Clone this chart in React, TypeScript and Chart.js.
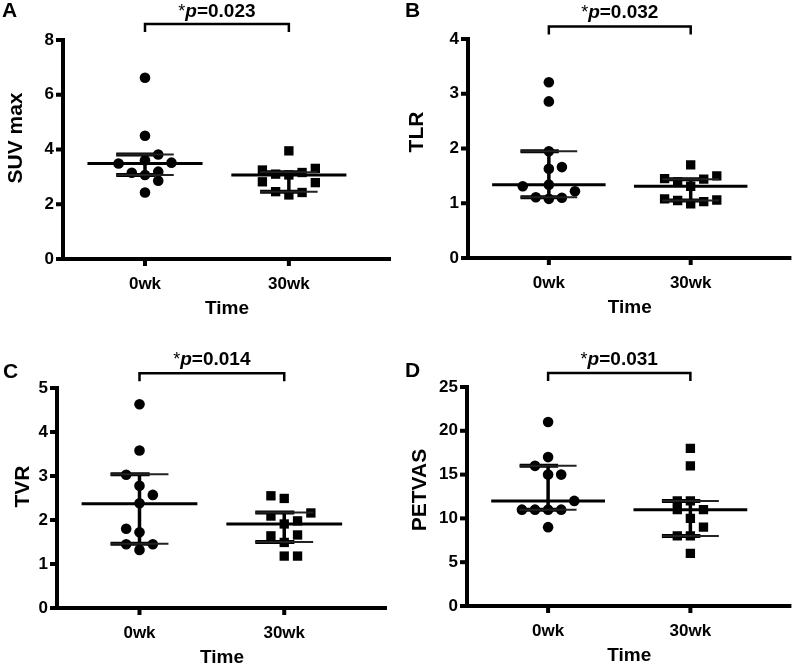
import React, { useEffect, useRef } from "react";
import { Chart, registerables } from "chart.js";

Chart.register(...registerables);

const FONT = '"Liberation Sans", Arial, Helvetica, sans-serif';

const categories = ["0wk", "30wk"];
const xTitle = "Time";

// ---- Panel A: SUV max ----
const suvWeek0 = [6.62, 4.5, 3.82, 3.49, 3.61, 3.52, 3.15, 3.07, 3.19, 2.86, 2.43];
const suvWeek0Slot = [0, 0, 1, -2, 0, 2, -1, 0, 1, 1, 0];
const suvWeek30 = [3.95, 3.25, 3.1, 3.07, 3.16, 3.31, 2.82, 2.79, 2.46, 2.34, 2.43];
const suvWeek30Slot = [0, -2, -1, 0, 1, 2, -2, 2, -1, 0, 1];
const suvMedian = [3.49, 3.07];
const suvQ1 = [3.07, 2.46];
const suvQ3 = [3.82, 3.17];
const suvTicks = [0, 2, 4, 6, 8];

// ---- Panel B: TLR ----
const tlrWeek0 = [3.21, 2.86, 1.95, 1.63, 1.66, 1.31, 1.34, 1.11, 1.08, 1.1, 1.22];
const tlrWeek0Slot = [0, 0, 0, 0, 1, -2, 0, -1, 0, 1, 2];
const tlrWeek30 = [1.7, 1.45, 1.39, 1.44, 1.5, 1.31, 1.08, 1.05, 0.99, 1.03, 1.06];
const tlrWeek30Slot = [0, -2, -1, 1, 2, 0, -2, -1, 0, 1, 2];
const tlrMedian = [1.34, 1.31];
const tlrQ1 = [1.11, 1.05];
const tlrQ3 = [1.95, 1.44];
const tlrTicks = [0, 1, 2, 3, 4];

// ---- Panel C: TVR ----
const tvrWeek0 = [4.63, 3.58, 3.03, 2.78, 2.57, 2.38, 1.8, 1.72, 1.45, 1.45, 1.32];
const tvrWeek0Slot = [0, 0, -1, 0, 1, 0, -1, 0, -1, 1, 0];
const tvrWeek30 = [2.55, 2.49, 2.16, 2.09, 1.98, 1.91, 1.64, 1.66, 1.49, 1.18, 1.18];
const tvrWeek30Slot = [-1, 0, 2, -1, 1, 0, -1, 1, 0, 0, 1];
const tvrMedian = [2.37, 1.91];
const tvrQ1 = [1.46, 1.5];
const tvrQ3 = [3.04, 2.17];
const tvrTicks = [0, 1, 2, 3, 4, 5];

// ---- Panel D: PETVAS ----
const petWeek0 = [21, 17, 16, 15, 15, 12, 11, 11, 11, 11, 9];
const petWeek0Slot = [0, 0, -1, 0, 1, 2, -2, -1, 0, 1, 0];
const petWeek30 = [18, 16, 12, 12, 11, 11, 10, 9, 8, 8, 6];
const petWeek30Slot = [0, 0, -1, 0, -1, 1, 0, 1, -1, 0, 0];
const petMedian = [12, 11];
const petQ1 = [11, 8];
const petQ3 = [16, 12];
const petTicks = [0, 5, 10, 15, 20, 25];

const SLOT = 0.092;

type PanelCfg = {
  letter: string;
  yTitle: string;
  pValue: string;
  week0: number[];
  slot0: number[];
  week30: number[];
  slot30: number[];
  median: number[];
  q1: number[];
  q3: number[];
  yTicks: number[];
  left: number;
  top: number;
  width: number;
  height: number;
  yAxisW: number;
  xAxisH: number;
  padTop: number;
  padRight: number;
  letterX: number;
  letterY: number;
  titleX: number;
  titleY: number;
  bracketY: number;
  pY: number;
};

const panels: PanelCfg[] = [
  {
    letter: "A", yTitle: "SUV max", pValue: "0.023",
    week0: suvWeek0, slot0: suvWeek0Slot, week30: suvWeek30, slot30: suvWeek30Slot,
    median: suvMedian, q1: suvQ1, q3: suvQ3, yTicks: suvTicks,
    left: 0, top: 0, width: 399, height: 335,
    yAxisW: 63, xAxisH: 76, padTop: 40, padRight: 8,
    letterX: 2, letterY: 17, titleX: 16, titleY: 138, bracketY: 24, pY: 16.5,
  },
  {
    letter: "B", yTitle: "TLR", pValue: "0.032",
    week0: tlrWeek0, slot0: tlrWeek0Slot, week30: tlrWeek30, slot30: tlrWeek30Slot,
    median: tlrMedian, q1: tlrQ1, q3: tlrQ3, yTicks: tlrTicks,
    left: 399, top: 0, width: 399, height: 335,
    yAxisW: 69, xAxisH: 77, padTop: 39, padRight: 1,
    letterX: 6, letterY: 17, titleX: 18.5, titleY: 132, bracketY: 26.5, pY: 18,
  },
  {
    letter: "C", yTitle: "TVR", pValue: "0.014",
    week0: tvrWeek0, slot0: tvrWeek0Slot, week30: tvrWeek30, slot30: tvrWeek30Slot,
    median: tvrMedian, q1: tvrQ1, q3: tvrQ3, yTicks: tvrTicks,
    left: 0, top: 335, width: 399, height: 336,
    yAxisW: 57, xAxisH: 63, padTop: 53, padRight: 12,
    letterX: 3, letterY: 43, titleX: 23, titleY: 151.5, bracketY: 38.3, pY: 30,
  },
  {
    letter: "D", yTitle: "PETVAS", pValue: "0.031",
    week0: petWeek0, slot0: petWeek0Slot, week30: petWeek30, slot30: petWeek30Slot,
    median: petMedian, q1: petQ1, q3: petQ3, yTicks: petTicks,
    left: 399, top: 335, width: 399, height: 336,
    yAxisW: 68, xAxisH: 65, padTop: 52, padRight: 2,
    letterX: 6, letterY: 42, titleX: 21, titleY: 155, bracketY: 38, pY: 30,
  },
];

const seg = (x0: number, x1: number, y0: number, y1: number, w: number, c: string) => ({
  type: "scatter" as const,
  showLine: true,
  data: [{ x: x0, y: y0 }, { x: x1, y: y1 }],
  borderColor: c,
  backgroundColor: c,
  borderWidth: w,
  pointRadius: 0,
  pointHoverRadius: 0,
  fill: false,
});

const AXIS_W = 4;
const TICK_LEN = 7;

const decorPlugin = {
  id: "decor",
  afterDraw(chart: any, _args: any, opts: any) {
    const { ctx, scales, chartArea } = chart;
    ctx.save();
    ctx.fillStyle = "#000";
    ctx.strokeStyle = "#000";
    ctx.lineCap = "butt";

    const xs = scales.x;
    const ys = scales.y;
    const ax = Math.round(chartArea.left);
    const ay = Math.round(chartArea.bottom);
    ctx.fillRect(ax - AXIS_W / 2, chartArea.top - AXIS_W / 2, AXIS_W, ay - chartArea.top + AXIS_W);
    ctx.fillRect(ax - AXIS_W / 2, ay - AXIS_W / 2, chartArea.right - ax + AXIS_W / 2, AXIS_W);
    for (const t of ys.ticks) {
      const py = ys.getPixelForValue(t.value);
      ctx.fillRect(ax - TICK_LEN, py - AXIS_W / 2, TICK_LEN, AXIS_W);
    }
    for (const t of xs.ticks) {
      const px = xs.getPixelForValue(t.value);
      ctx.fillRect(px - AXIS_W / 2, ay, AXIS_W, TICK_LEN);
    }

    ctx.font = `bold 21px ${FONT}`;
    ctx.textAlign = "left";
    ctx.textBaseline = "alphabetic";
    ctx.fillText(opts.letter, opts.letterX, opts.letterY);

    ctx.save();
    ctx.translate(opts.titleX, opts.titleY);
    ctx.rotate(-Math.PI / 2);
    ctx.textAlign = "center";
    ctx.textBaseline = "middle";
    ctx.font = `bold 21px ${FONT}`;
    ctx.fillText(opts.yTitle, 0, 0);
    ctx.restore();

    const x0 = xs.getPixelForValue(0);
    const x1 = xs.getPixelForValue(1);
    const by = opts.bracketY;
    ctx.lineWidth = 2.5;
    ctx.beginPath();
    ctx.moveTo(x0, by + 8);
    ctx.lineTo(x0, by);
    ctx.lineTo(x1, by);
    ctx.lineTo(x1, by + 8);
    ctx.stroke();

    const parts = [
      { t: "*", f: `18px ${FONT}` },
      { t: "p", f: `italic bold 19px ${FONT}` },
      { t: "=" + opts.pValue, f: `bold 19px ${FONT}` },
    ];
    let total = 0;
    for (const p of parts) {
      ctx.font = p.f;
      total += ctx.measureText(p.t).width;
    }
    let cx = (x0 + x1) / 2 - total / 2;
    ctx.textAlign = "left";
    ctx.textBaseline = "alphabetic";
    for (const p of parts) {
      ctx.font = p.f;
      ctx.fillText(p.t, cx, opts.pY);
      cx += ctx.measureText(p.t).width;
    }
    ctx.restore();
  },
};

function buildConfig(cfg: PanelCfg): any {
  const datasets: any[] = [];
  for (let i = 0; i < 2; i++) {
    const med = cfg.median[i];
    const lo = cfg.q1[i];
    const hi = cfg.q3[i];
    datasets.push(seg(i - 0.4, i + 0.4, med, med, 3, "#000"));
    datasets.push(seg(i - 0.2, i + 0.2, hi, hi, 2, "#222"));
    datasets.push(seg(i - 0.2, i + 0.07, hi, hi, 4, "#000"));
    datasets.push(seg(i - 0.2, i + 0.2, lo, lo, 2, "#222"));
    datasets.push(seg(i - 0.2, i + 0.07, lo, lo, 4, "#000"));
    datasets.push(seg(i, i, lo, hi, 3.5, "#000"));
  }
  datasets.push({
    type: "scatter",
    data: cfg.week0.map((v, k) => ({ x: 0 + cfg.slot0[k] * SLOT, y: v })),
    pointStyle: "circle",
    pointRadius: 5.3,
    backgroundColor: "#000",
    borderColor: "#000",
    borderWidth: 0,
  });
  datasets.push({
    type: "scatter",
    data: cfg.week30.map((v, k) => ({ x: 1 + cfg.slot30[k] * SLOT, y: v })),
    pointStyle: "rect",
    pointRadius: 6.6,
    backgroundColor: "#000",
    borderColor: "#000",
    borderWidth: 0,
  });

  const tickFont = { family: FONT, size: 17, weight: "bold" as const };
  const yMin = cfg.yTicks[0];
  const yMax = cfg.yTicks[cfg.yTicks.length - 1];
  const hiddenGrid = {
    display: true,
    drawOnChartArea: false,
    drawTicks: true,
    tickLength: TICK_LEN,
    color: "rgba(0,0,0,0)",
    tickColor: "rgba(0,0,0,0)",
  };

  return {
    type: "scatter",
    data: { datasets },
    options: {
      animation: false,
      responsive: false,
      events: [],
      layout: { padding: { top: cfg.padTop, right: cfg.padRight, left: 0, bottom: 0 } },
      plugins: {
        legend: { display: false },
        tooltip: { enabled: false },
        decor: {
          letter: cfg.letter, letterX: cfg.letterX, letterY: cfg.letterY,
          yTitle: cfg.yTitle, titleX: cfg.titleX, titleY: cfg.titleY,
          bracketY: cfg.bracketY, pY: cfg.pY, pValue: cfg.pValue,
        },
      },
      scales: {
        x: {
          type: "linear",
          min: -0.57,
          max: 1.71,
          afterBuildTicks: (s: any) => {
            s.ticks = categories.map((_, i) => ({ value: i }));
          },
          afterFit: (s: any) => {
            s.height = cfg.xAxisH;
          },
          ticks: {
            callback: (v: any) => categories[v] ?? "",
            font: tickFont,
            color: "#000",
            padding: 8,
            maxRotation: 0,
            autoSkip: false,
          },
          grid: hiddenGrid,
          border: { display: false },
          title: {
            display: true,
            text: xTitle,
            color: "#000",
            font: { family: FONT, size: 19, weight: "bold" },
            padding: { top: 0, bottom: cfg.xAxisH - 61.4 },
          },
        },
        y: {
          type: "linear",
          min: yMin,
          max: yMax,
          afterBuildTicks: (s: any) => {
            s.ticks = cfg.yTicks.map((v) => ({ value: v }));
          },
          afterFit: (s: any) => {
            s.width = cfg.yAxisW;
          },
          ticks: { font: tickFont, color: "#000", padding: 2 },
          grid: hiddenGrid,
          border: { display: false },
        },
      },
    },
    plugins: [decorPlugin],
  };
}

function Panel({ cfg }: { cfg: PanelCfg }) {
  const ref = useRef<HTMLCanvasElement>(null);
  useEffect(() => {
    const chart = new Chart(ref.current as HTMLCanvasElement, buildConfig(cfg));
    return () => chart.destroy();
  }, [cfg]);
  return (
    <canvas
      ref={ref}
      width={cfg.width}
      height={cfg.height}
      style={{ position: "absolute", left: cfg.left, top: cfg.top, width: cfg.width, height: cfg.height }}
    />
  );
}

export default function App() {
  return (
    <div style={{ position: "absolute", left: 0, top: 0, width: 798, height: 671, background: "#fff" }}>
      {panels.map((p) => (
        <Panel key={p.letter} cfg={p} />
      ))}
    </div>
  );
}
